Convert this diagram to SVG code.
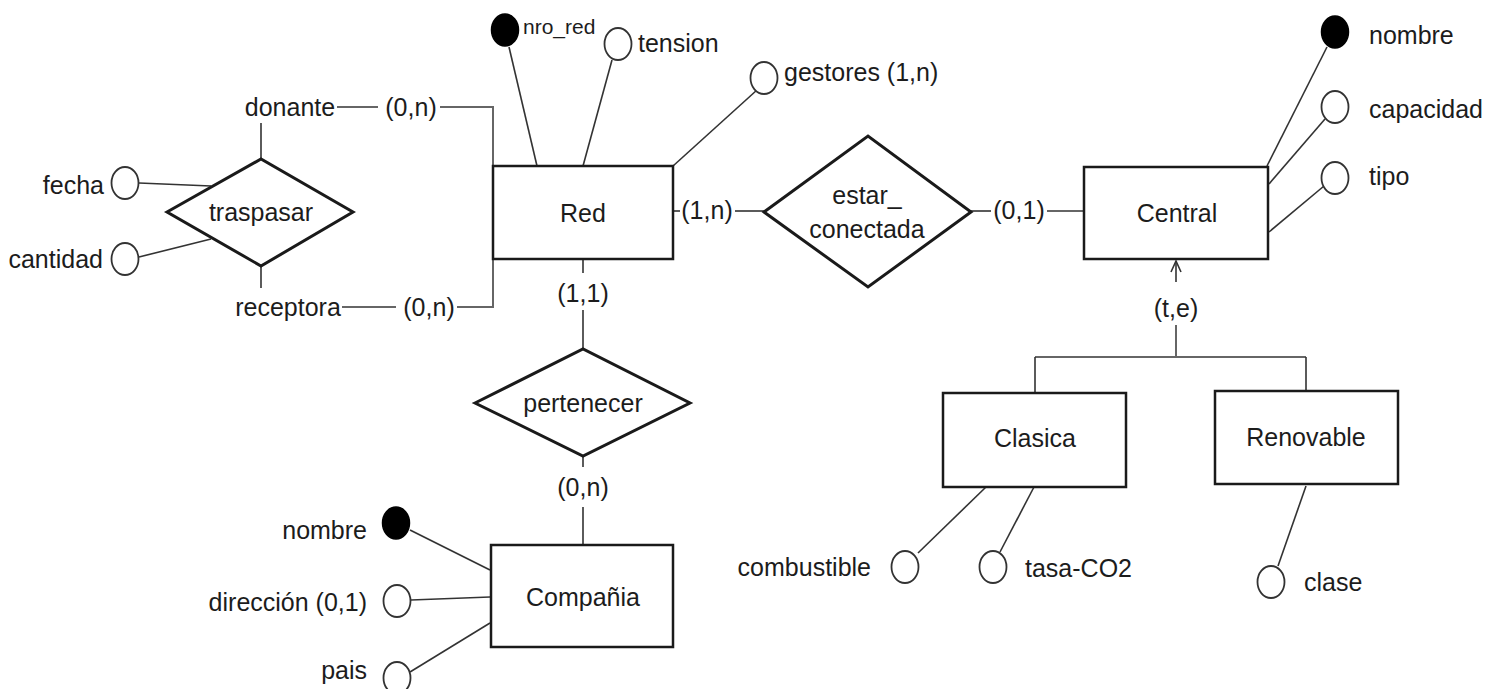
<svg xmlns="http://www.w3.org/2000/svg" width="1500" height="689" viewBox="0 0 1500 689">
<defs>
<style>
text{font-family:"Liberation Sans",Arial,sans-serif;font-size:25px;fill:#1c1c1c;dominant-baseline:central}
.m{text-anchor:middle}.e{text-anchor:end}
.ent{fill:#fff;stroke:#1a1a1a;stroke-width:2.5}
.rel{fill:#fff;stroke:#1a1a1a;stroke-width:3}
.att{fill:#fff;stroke:#333;stroke-width:1.8}
.key{fill:#000;stroke:#000;stroke-width:1.5}
.ln{fill:none;stroke:#333;stroke-width:1.6}
.gl{fill:none;stroke:#666;stroke-width:2}
</style>
<marker id="arr" viewBox="0 0 14 14" refX="13" refY="7" markerWidth="14" markerHeight="14" orient="auto" markerUnits="userSpaceOnUse">
<path d="M2,2 L13,7 L2,12" fill="none" stroke="#333" stroke-width="1.6"/>
</marker>
</defs>
<rect width="1500" height="689" fill="#fff"/>
<g id="connectors">
<path class="ln" d="M337,107 H378"/>
<path class="gl" d="M440,107 H493 V166"/>
<path class="ln" d="M342,307 H396"/>
<path class="gl" d="M457,307 H493 V259"/>
<path class="ln" d="M261,123 V159"/>
<path class="ln" d="M261,266 V288"/>
<path class="ln" d="M139,183 L211,186"/>
<path class="ln" d="M139,257 L211,239"/>
<path class="ln" d="M509,47 L537,166"/>
<path class="ln" d="M612,60 L583,166"/>
<path class="ln" d="M757,90 L673,166"/>
<path class="ln" d="M673,211 H680"/>
<path class="ln" d="M735,211 H764"/>
<path class="ln" d="M971,211 H991"/>
<path class="ln" d="M1047,211 H1084"/>
<path class="ln" d="M1327,47 L1267,166"/>
<path class="ln" d="M1325,119 L1269,184"/>
<path class="ln" d="M1324,186 L1269,232"/>
<path class="ln" d="M1176,282 V261" marker-end="url(#arr)"/>
<path class="gl" d="M1176,325 V357 M1035,357 H1306"/>
<path class="ln" d="M1035,357 V393 M1306,357 V391"/>
<path class="ln" d="M583,259 V273"/>
<path class="ln" d="M583,310 V349"/>
<path class="ln" d="M583,456 V467"/>
<path class="ln" d="M583,507 V545"/>
<path class="ln" d="M410,530 L490,570"/>
<path class="ln" d="M411,600 L490,597"/>
<path class="ln" d="M410,672 L490,623"/>
<path class="ln" d="M918,553 L986,487"/>
<path class="ln" d="M1000,552 L1034,487"/>
<path class="ln" d="M1278,566 L1306,486"/>
</g>
<g id="traspasar">
<polygon class="rel" points="167,212 261,159 353,212 261,266"/>
<text class="m" x="261" y="212">traspasar</text>
<text class="m" x="290" y="107">donante</text>
<text class="m" x="411" y="107">(0,n)</text>
<text class="m" x="288" y="307">receptora</text>
<text class="m" x="429" y="307">(0,n)</text>
</g>
<g id="fecha"><ellipse class="att" cx="125" cy="183" rx="13.5" ry="16"/><text class="e" x="104" y="185">fecha</text></g>
<g id="cantidad"><ellipse class="att" cx="125" cy="259" rx="13.5" ry="16"/><text class="e" x="103" y="259">cantidad</text></g>
<g id="red">
<rect class="ent" x="493" y="166" width="180" height="93"/>
<text class="m" x="583" y="213">Red</text>
</g>
<g id="nro_red"><ellipse class="key" cx="505" cy="30" rx="13.5" ry="16"/><text x="523" y="26" style="font-size:21px">nro_red</text></g>
<g id="tension"><ellipse class="att" cx="618" cy="44" rx="13.5" ry="16"/><text x="638" y="43">tension</text></g>
<g id="gestores"><ellipse class="att" cx="764" cy="78" rx="13.5" ry="16"/><text x="784" y="72">gestores (1,n)</text></g>
<g id="estar_conectada">
<polygon class="rel" points="764,212 868,136 971,212 868,287"/>
<text class="m" x="867" y="195">estar_</text>
<text class="m" x="867" y="229">conectada</text>
<text class="m" x="707" y="210">(1,n)</text>
<text class="m" x="1019" y="210">(0,1)</text>
</g>
<g id="central">
<rect class="ent" x="1084" y="167" width="184" height="92"/>
<text class="m" x="1177" y="213">Central</text>
</g>
<g id="central_nombre"><ellipse class="key" cx="1335" cy="32" rx="13.5" ry="16"/><text x="1369" y="35">nombre</text></g>
<g id="capacidad"><ellipse class="att" cx="1335" cy="107" rx="13.5" ry="16"/><text x="1369" y="109">capacidad</text></g>
<g id="tipo"><ellipse class="att" cx="1335" cy="178" rx="13.5" ry="16"/><text x="1369" y="176">tipo</text></g>
<g id="isa"><text class="m" x="1176" y="308">(t,e)</text></g>
<g id="clasica">
<rect class="ent" x="943" y="393" width="183" height="94"/>
<text class="m" x="1035" y="438">Clasica</text>
</g>
<g id="renovable">
<rect class="ent" x="1215" y="391" width="183" height="93"/>
<text class="m" x="1306" y="437">Renovable</text>
</g>
<g id="combustible"><ellipse class="att" cx="905" cy="567" rx="13.5" ry="16"/><text class="e" x="871" y="567">combustible</text></g>
<g id="tasa_co2"><ellipse class="att" cx="993" cy="567" rx="13.5" ry="16"/><text x="1025" y="568">tasa-CO2</text></g>
<g id="clase"><ellipse class="att" cx="1271" cy="582" rx="13.5" ry="16"/><text x="1304" y="582">clase</text></g>
<g id="pertenecer">
<polygon class="rel" points="475,403 583,349 690,403 583,456"/>
<text class="m" x="583" y="403">pertenecer</text>
<text class="m" x="583" y="293">(1,1)</text>
<text class="m" x="583" y="487">(0,n)</text>
</g>
<g id="compania">
<rect class="ent" x="491" y="545" width="182" height="102"/>
<text class="m" x="583" y="597">Compañia</text>
</g>
<g id="compania_nombre"><ellipse class="key" cx="396" cy="523" rx="13.5" ry="16"/><text class="e" x="367" y="530">nombre</text></g>
<g id="direccion"><ellipse class="att" cx="397" cy="601" rx="13.5" ry="16"/><text class="e" x="367" y="602">dirección (0,1)</text></g>
<g id="pais"><ellipse class="att" cx="397" cy="678" rx="13.5" ry="16"/><text class="e" x="367" y="670">pais</text></g>
</svg>
